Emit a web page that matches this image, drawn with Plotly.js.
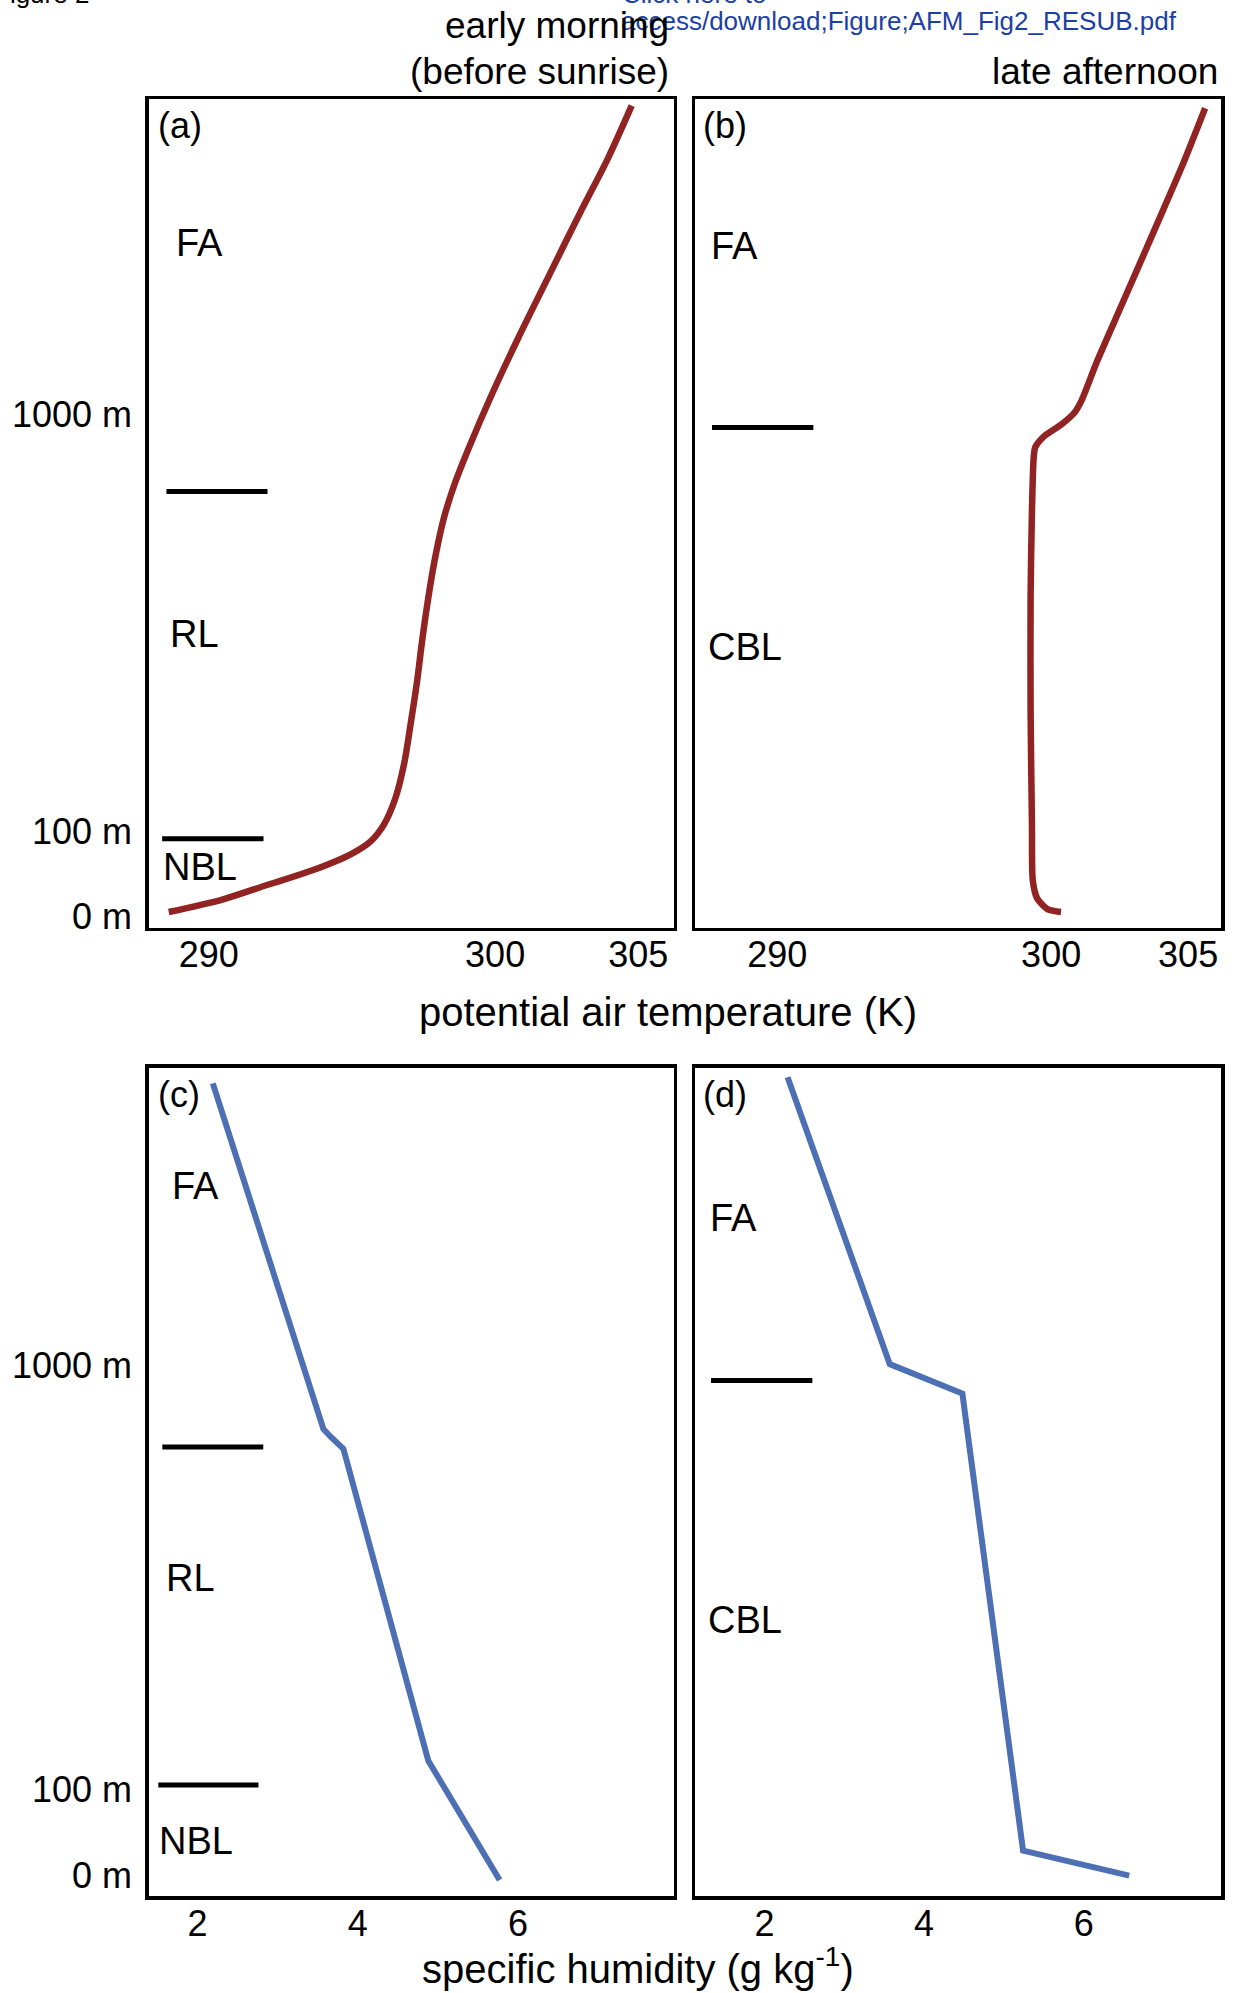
<!DOCTYPE html>
<html>
<head>
<meta charset="utf-8">
<script src="https://cdn.plot.ly/plotly-3.0.1.min.js"></script>
<style>
  html, body { margin: 0; padding: 0; background: #ffffff; }
  #chart { width: 1234px; height: 1993px; }
</style>
</head>
<body>
<div id="chart"></div>
<script>
// ---------------- data (schematic height unit: 0 = 0 m, 1 = 100 m, ~5.9 = 1000 m) ----------------
const heightTickVals = [0, 1, 5.9];
const heightTickText = ["0 m", "100 m", "1000 m"];
const thetaTickVals = [290, 300, 305];
const humidityTickVals = [2, 4, 6];

// (a) early morning potential temperature profile
const aTheta  = [288.60, 290.50, 292.06, 293.62, 295.02, 295.65, 296.12, 296.51, 296.82, 297.05, 297.29, 297.44, 297.67, 297.91, 298.22, 298.61, 299.08, 299.86, 300.79, 301.89, 302.98, 303.91, 304.77];
const aHeight = [0.05, 0.20, 0.37, 0.54, 0.74, 0.88, 1.08, 1.38, 1.79, 2.26, 2.80, 3.21, 3.75, 4.22, 4.69, 5.10, 5.50, 6.11, 6.78, 7.53, 8.27, 8.88, 9.52];
// (b) late afternoon potential temperature profile
const bTheta  = [300.36, 299.88, 299.49, 299.33, 299.30, 299.25, 299.25, 299.30, 299.36, 299.42, 299.75, 300.39, 300.84, 301.10, 301.68, 302.59, 303.88, 304.78, 305.62];
const bHeight = [0.05, 0.08, 0.21, 0.42, 1.06, 2.41, 3.75, 4.77, 5.37, 5.51, 5.64, 5.78, 5.91, 6.05, 6.52, 7.19, 8.14, 8.81, 9.49];
// (c) early morning specific humidity profile
const cHumidity = [2.19, 3.57, 3.66, 3.82, 4.88, 5.66, 5.77];
const cHeight   = [9.17, 5.17, 5.08, 4.94, 1.33, 0.14, -0.05];
// (d) late afternoon specific humidity profile
const dHumidity = [2.29, 3.57, 4.48, 5.24, 6.57];
const dHeight   = [9.24, 5.92, 5.58, 0.29, 0.00];

// layer-top markers (height, start, end)
const aBoundHeight = [4.99, 0.91];
const aBoundStart  = [288.52, 288.37];
const aBoundEnd    = [292.05, 291.91];
const bBoundHeight = [5.74];
const bBoundStart  = [287.62];
const bBoundEnd    = [291.32];
const cBoundHeight = [4.96, 1.05];
const cBoundStart  = [1.56, 1.51];
const cBoundEnd    = [2.82, 2.76];
const dBoundHeight = [5.73];
const dBoundStart  = [1.33];
const dBoundEnd    = [2.60];

// ---------------- styling ----------------
const W = 1234, H = 1993;
const FONT = "Liberation Sans, Arial, Helvetica, sans-serif";
const RED = "#912323";
const BLUE = "#4d6fb4";
const px = (x) => x / W;
const py = (y) => 1 - y / H;

function boundTrace(hs, x0s, x1s, xa, ya) {
  const xs = [], ys = [];
  hs.forEach((h, i) => { xs.push(x0s[i], x1s[i], null); ys.push(h, h, null); });
  return { x: xs, y: ys, xaxis: xa, yaxis: ya, type: "scatter", mode: "lines",
           line: { color: "#000000", width: 5 }, hoverinfo: "skip" };
}

const traces = [
  { x: aTheta, y: aHeight, xaxis: "x", yaxis: "y", type: "scatter", mode: "lines",
    line: { color: RED, width: 6.5, shape: "spline", smoothing: 0.9 } },
  boundTrace(aBoundHeight, aBoundStart, aBoundEnd, "x", "y"),
  { x: bTheta, y: bHeight, xaxis: "x2", yaxis: "y2", type: "scatter", mode: "lines",
    line: { color: RED, width: 6.5, shape: "spline", smoothing: 0.7 } },
  boundTrace(bBoundHeight, bBoundStart, bBoundEnd, "x2", "y2"),
  { x: cHumidity, y: cHeight, xaxis: "x3", yaxis: "y3", type: "scatter", mode: "lines",
    line: { color: BLUE, width: 6 } },
  boundTrace(cBoundHeight, cBoundStart, cBoundEnd, "x3", "y3"),
  { x: dHumidity, y: dHeight, xaxis: "x4", yaxis: "y4", type: "scatter", mode: "lines",
    line: { color: BLUE, width: 6 } },
  boundTrace(dBoundHeight, dBoundStart, dBoundEnd, "x4", "y4")
];

const frame = { showline: true, mirror: true, linecolor: "#000000", linewidth: 3.5,
                showgrid: false, zeroline: false, ticks: "", fixedrange: true };

function xAx(domain, range, anchor, tickvals) {
  return Object.assign({}, frame, { domain, range, anchor, tickmode: "array", tickvals,
    ticktext: tickvals.map(String), tickfont: { size: 36, color: "#000" }, ticklabelstandoff: -7 });
}
function yAx(domain, range, anchor, labels) {
  return Object.assign({}, frame, { domain, range, anchor, tickmode: "array",
    tickvals: heightTickVals, ticktext: heightTickText, showticklabels: labels,
    tickfont: { size: 36, color: "#000" }, ticklabelstandoff: 6 });
}

const row1 = [py(927.7), py(99.1)];
const row2 = [py(1896), py(1067.5)];
const colL = [px(148.7), px(673.5)];
const colR = [px(695), px(1221)];

function ann(text, x, y, size, xanchor, color) {
  return { text, x: px(x), y: py(y), xref: "paper", yref: "paper", showarrow: false,
           xanchor: xanchor || "left", yanchor: "middle",
           font: { family: FONT, size, color: color || "#000000" } };
}

const annotations = [
  // header artefacts of the source page
  ann("Figure 2", -8, -6, 26, "left"),
  ann("Click here to", 620, -6, 26, "left", "#1c3fa5"),
  ann("access/download;Figure;AFM_Fig2_RESUB.pdf", 619, 21, 26, "left", "#1c3fa5"),
  // column titles
  ann("early morning", 671, 25, 37, "right"),
  ann("(before sunrise)", 671, 71, 37, "right"),
  ann("late afternoon", 1220, 71, 37, "right"),
  // panel labels
  ann("(a)", 156, 126, 36), ann("FA", 174, 243, 38), ann("RL", 168, 634, 38), ann("NBL", 161, 867, 38),
  ann("(b)", 701, 126, 36), ann("FA", 709, 246, 38), ann("CBL", 706, 647, 38),
  ann("(c)", 156, 1094, 36), ann("FA", 170, 1186, 38), ann("RL", 164, 1578, 38), ann("NBL", 157, 1841, 38),
  ann("(d)", 701, 1094, 36), ann("FA", 708, 1218, 38), ann("CBL", 706, 1620, 38),
  // shared axis titles
  ann("potential air temperature (K)", 668, 1012, 40, "center"),
  ann("specific humidity (g kg<sup>-1</sup>)", 638, 1966, 40, "center")
];

const layout = {
  width: W, height: H,
  margin: { l: 0, r: 0, t: 0, b: 0, pad: 0 },
  paper_bgcolor: "#ffffff", plot_bgcolor: "#ffffff",
  showlegend: false,
  font: { family: FONT, color: "#000000", size: 36 },
  xaxis:  xAx(colL, [287.9, 306.23], "y", thetaTickVals),
  yaxis:  yAx(row1, [-0.134, 9.597], "x", true),
  xaxis2: xAx(colR, [287.0, 306.2], "y2", thetaTickVals),
  yaxis2: yAx(row1, [-0.134, 9.597], "x2", false),
  xaxis3: xAx(colL, [1.39, 7.94], "y3", humidityTickVals),
  yaxis3: yAx(row2, [-0.235, 9.353], "x3", true),
  xaxis4: xAx(colR, [1.13, 7.72], "y4", humidityTickVals),
  yaxis4: yAx(row2, [-0.235, 9.353], "x4", false),
  annotations
};

Plotly.newPlot("chart", traces, layout, { staticPlot: true, displayModeBar: false });
</script>
</body>
</html>
